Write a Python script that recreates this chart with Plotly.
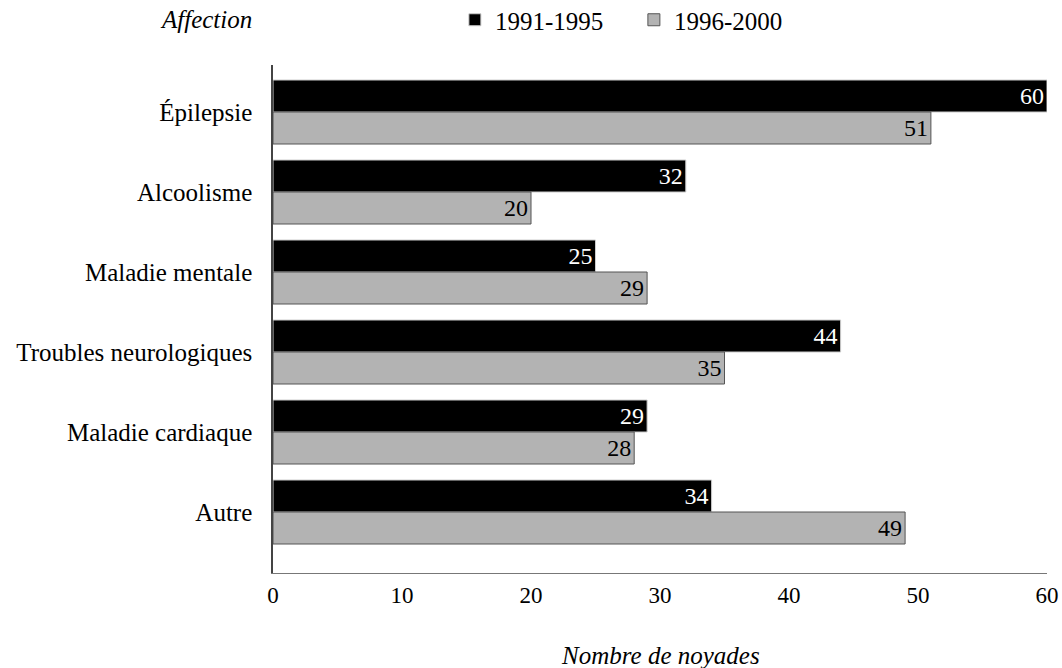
import plotly.graph_objects as go

categories = ["Épilepsie", "Alcoolisme", "Maladie mentale", "Troubles neurologiques", "Maladie cardiaque", "Autre"]
s1_name = "1991-1995"
s1_values = [60, 32, 25, 44, 29, 34]
s2_name = "1996-2000"
s2_values = [51, 20, 29, 35, 28, 49]
x_ticks = [0, 10, 20, 30, 40, 50, 60]

FONT = "Liberation Serif"
W, H = 1062, 668
LEFT, RIGHT = 273, 1047
TOP, BOT = 65, 573
PH = BOT - TOP


def py(page_y):
    return (BOT - page_y) / PH


fig = go.Figure()
fig.add_trace(go.Bar(
    y=categories, x=s1_values, name=s1_name, orientation="h",
    marker=dict(color="#000000", line=dict(color="#cccccc", width=1)),
    text=[str(v) for v in s1_values], textposition="inside", insidetextanchor="end",
    textfont=dict(color="white", size=24, family=FONT),
))
fig.add_trace(go.Bar(
    y=categories, x=s2_values, name=s2_name, orientation="h",
    marker=dict(color="#b3b3b3", line=dict(color="#555555", width=1)),
    text=[str(v) for v in s2_values], textposition="inside", insidetextanchor="end",
    textfont=dict(color="black", size=24, family=FONT),
))

fig.update_layout(
    width=W, height=H,
    margin=dict(l=LEFT, r=W - RIGHT, t=TOP, b=H - BOT),
    barmode="group", bargap=0.2, bargroupgap=0,
    plot_bgcolor="white", paper_bgcolor="white",
    font=dict(family=FONT, size=24, color="black"),
    uniformtext=dict(mode="show", minsize=10),
    legend=dict(orientation="h", x=0.235, y=1 - 20 / H, xref="paper", yref="container",
                xanchor="left", yanchor="middle",
                font=dict(size=25), traceorder="normal", entrywidth=134),
    xaxis=dict(range=[0, 60], tickvals=x_ticks, showgrid=False, zeroline=False,
               showline=True, linecolor="#777777", linewidth=1, ticks="outside",
               ticklen=1, tickcolor="rgba(0,0,0,0)", automargin=False,
               tickfont=dict(size=23)),
    yaxis=dict(categoryorder="array", categoryarray=categories,
               range=[5.7625, -0.5875], showgrid=False, zeroline=False,
               showline=True, linecolor="#444444", linewidth=1.5, ticks="outside",
               ticklen=14, tickcolor="rgba(0,0,0,0)", automargin=False,
               tickfont=dict(size=25)),
    annotations=[
        dict(text="<i>Affection</i>", xref="paper", yref="paper",
             x=-0.0245, y=py(20), xanchor="right", yanchor="middle",
             showarrow=False, font=dict(size=25)),
        dict(text="<i>Nombre de noyades</i>", xref="paper", yref="paper",
             x=0.5, y=py(655), xanchor="center", yanchor="middle",
             showarrow=False, font=dict(size=25)),
    ],
)

fig.write_html(
    "out.html",
    config={"displayModeBar": False},
    post_script="document.body.style.margin='0';document.body.style.overflow='hidden';",
)
